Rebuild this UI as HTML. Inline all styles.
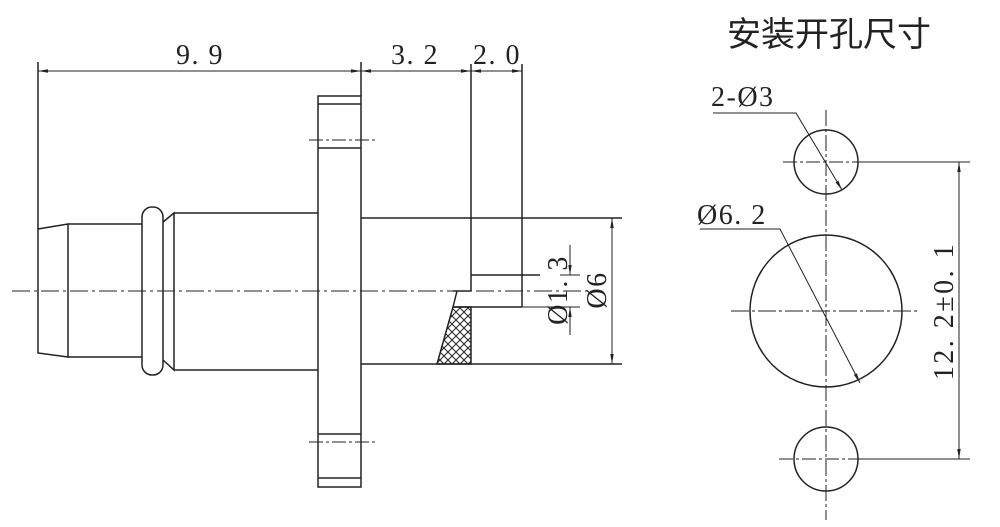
<!DOCTYPE html>
<html><head><meta charset="utf-8"><style>
html,body{margin:0;padding:0;background:#fff;width:1000px;height:527px;overflow:hidden}
svg{display:block}
text{font-family:"Liberation Serif","Noto Serif CJK SC",serif;fill:#222}
</style></head><body>
<svg width="1000" height="527" viewBox="0 0 1000 527" xmlns="http://www.w3.org/2000/svg">
<defs>
<marker id="a" viewBox="0 0 10 4" refX="10" refY="2" markerWidth="10" markerHeight="4" orient="auto-start-reverse" markerUnits="userSpaceOnUse"><path d="M0,0.3 L10,2 L0,3.7z" fill="#222"/></marker>
<pattern id="h" width="8" height="8" patternUnits="userSpaceOnUse"><path d="M0,0 L8,8 M8,0 L0,8" stroke="#222" stroke-width="1"/></pattern>
</defs>
<g stroke="#222" stroke-width="1.5" fill="none">
<line x1="12" y1="291" x2="600" y2="291" stroke-dasharray="18,4,3,4" stroke-width="1"/>
<path d="M38,229 L68,224 L68,357 L38,353 Z"/>
<line x1="68" y1="224" x2="142" y2="224"/><line x1="68" y1="357" x2="142" y2="357"/>
<rect x="142" y="207" width="21" height="168" rx="10"/>
<path d="M163,222 L174,213 L174,370 L163,360"/>
<line x1="174" y1="213" x2="318" y2="213"/><line x1="174" y1="370" x2="318" y2="370"/>
<rect x="318" y="96" width="43" height="391"/>
<line x1="318" y1="104" x2="361" y2="104"/><line x1="318" y1="478" x2="361" y2="478"/>
<line x1="318" y1="148" x2="361" y2="148"/><line x1="318" y1="434" x2="361" y2="434"/>
<line x1="309" y1="140" x2="377" y2="140" stroke-width="1" stroke-dasharray="14,3,3,3"/>
<line x1="309" y1="442" x2="377" y2="442" stroke-width="1" stroke-dasharray="14,3,3,3"/>
<line x1="361" y1="218" x2="622" y2="218"/><line x1="361" y1="364" x2="622" y2="364"/>
<line x1="471" y1="64" x2="471" y2="291"/><line x1="522" y1="64" x2="522" y2="307"/>
<line x1="471" y1="275" x2="540" y2="275"/>
<line x1="453" y1="291" x2="471" y2="291"/>
<line x1="453" y1="307" x2="522" y2="307"/>
<path d="M453,307 L437,364 L471,364 L471,307 Z" fill="url(#h)"/>
<line x1="457" y1="291" x2="453" y2="307"/>
<line x1="361" y1="62" x2="361" y2="96"/><line x1="38" y1="62" x2="38" y2="229"/>
<g stroke-width="1">
<line x1="38" y1="71" x2="361" y2="71" marker-start="url(#a)" marker-end="url(#a)"/>
<line x1="361" y1="71" x2="471" y2="71" marker-start="url(#a)" marker-end="url(#a)"/>
<line x1="471" y1="71" x2="522" y2="71" marker-start="url(#a)" marker-end="url(#a)"/>
<line x1="570" y1="245" x2="570" y2="275" marker-end="url(#a)"/>
<line x1="570" y1="335" x2="570" y2="307" marker-end="url(#a)"/>
<line x1="560" y1="275" x2="580" y2="275"/><line x1="522" y1="307" x2="580" y2="307"/>
<line x1="612" y1="218" x2="612" y2="364" marker-start="url(#a)" marker-end="url(#a)"/>
</g>
<line x1="826" y1="110" x2="826" y2="520" stroke-width="1" stroke-dasharray="16,3,3,3"/>
<line x1="783" y1="162" x2="860" y2="162" stroke-width="1" stroke-dasharray="14,3,3,3"/>
<line x1="731" y1="311" x2="920" y2="311" stroke-width="1" stroke-dasharray="18,3,3,3"/>
<line x1="779" y1="459" x2="860" y2="459" stroke-width="1" stroke-dasharray="14,3,3,3"/>
<circle cx="826" cy="162" r="32"/><circle cx="826" cy="311" r="76"/><circle cx="826" cy="459" r="32"/>
<g stroke-width="1">
<line x1="858" y1="162" x2="970" y2="162"/><line x1="858" y1="459" x2="970" y2="459"/>
<line x1="959" y1="162" x2="959" y2="459" marker-start="url(#a)" marker-end="url(#a)"/>
<polyline points="713,113 796,113 842,190" marker-end="url(#a)"/>
<polyline points="700,229 780,229 860,383" marker-end="url(#a)"/>
</g>
</g>
<g font-size="28" letter-spacing="1.5">
<text x="200" y="64" text-anchor="middle">9. 9</text>
<text x="415" y="64" text-anchor="middle">3. 2</text>
<text x="497" y="64" text-anchor="middle">2. 0</text>
<text x="711" y="106">2-Ø3</text>
<text x="697" y="224">Ø6. 2</text>
<text transform="translate(567,290) rotate(-90)" text-anchor="middle">Ø1. 3</text>
<text transform="translate(606,290) rotate(-90)" text-anchor="middle">Ø6</text>
<text transform="translate(953,311) rotate(-90)" text-anchor="middle" letter-spacing="2.5">12. 2±0. 1</text>
</g>
<text x="727" y="46" font-size="34" style="font-family:'Noto Sans CJK SC',sans-serif">安装开孔尺寸</text>
</svg>
</body></html>
